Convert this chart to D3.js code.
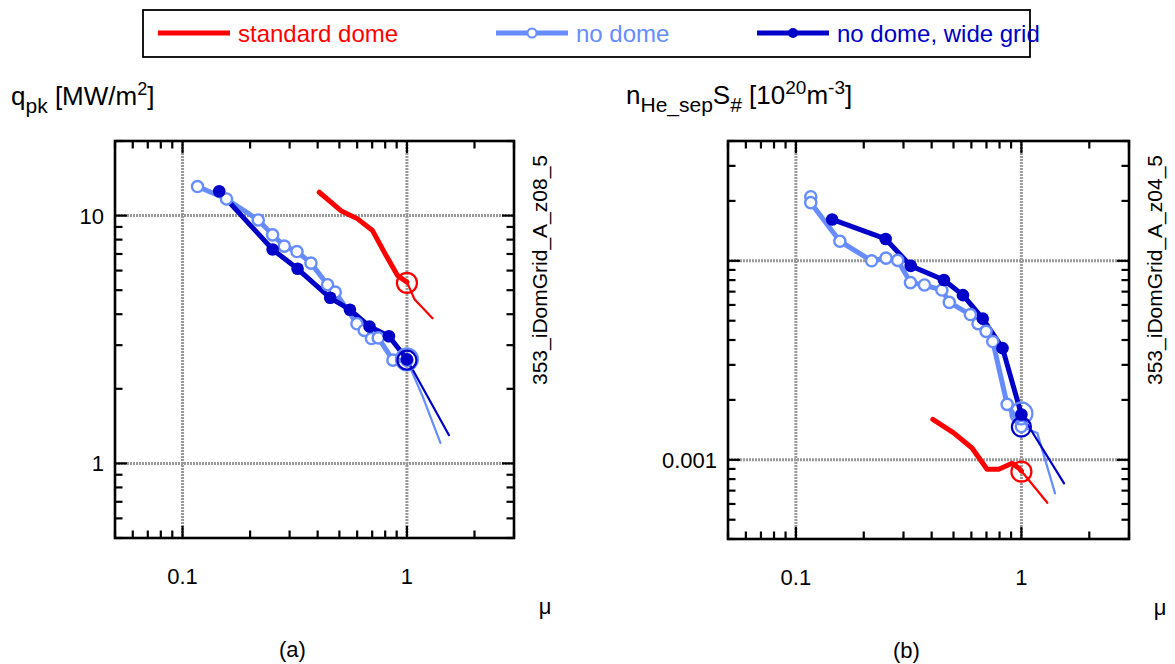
<!DOCTYPE html>
<html>
<head>
<meta charset="utf-8">
<script src="https://cdn.jsdelivr.net/npm/d3@7"></script>
<style>
  body { margin: 0; background: #fff; }
  svg { display: block; }
  text { font-family: "Liberation Sans", Arial, Helvetica, sans-serif; fill: #000; }
</style>
</head>
<body>
<svg id="chart" width="1175" height="664"></svg>
<script>
// ---------- data ----------
const seriesNames = ["standard dome", "no dome", "no dome, wide grid"];
const muDomain = [0.05, 3];
const muTickLabels = [0.1, 1];

// panel (a): peak heat flux q_pk [MW/m2]
const stdMuA  = [0.4066, 0.508, 0.6026, 0.7025, 0.792, 0.908, 1.0];
const stdQA   = [12.42, 10.47, 9.70, 8.70, 7.12, 5.73, 5.39];
const stdTailMuA = [1.0, 1.08, 1.30];
const stdTailQA  = [5.39, 4.60, 3.85];
const noDomeMuA = [0.1166, 0.157, 0.2175, 0.252, 0.284, 0.3235, 0.3735, 0.4428, 0.479, 0.5986, 0.645, 0.695, 0.745, 0.866, 1.0];
const noDomeQA  = [13.1, 11.67, 9.6, 8.36, 7.53, 7.16, 6.43, 5.26, 4.91, 3.66, 3.44, 3.19, 3.21, 2.61, 2.61];
const noDomeTailMuA = [1.0, 1.17, 1.41];
const noDomeTailQA  = [2.61, 1.88, 1.21];
const wideMuA = [0.1457, 0.252, 0.3255, 0.455, 0.557, 0.681, 0.8314, 1.0];
const wideQA  = [12.54, 7.30, 6.10, 4.66, 4.17, 3.57, 3.26, 2.63];
const wideTailMuA = [1.0, 1.54];
const wideTailQA  = [2.63, 1.30];
const ringMuA = [1.0, 1.0, 1.0];          // standard, no dome, wide grid
const ringQA  = [5.35, 2.63, 2.61];
const qTickLabels = [1, 10];
const qDomain = [0.5, 20];

// panel (b): n_He_sep S_# [1e20 m^-3]
const stdMuB  = [0.4048, 0.5006, 0.6039, 0.704, 0.794, 0.91, 0.975, 1.0];
const stdNB   = [0.001595, 0.001366, 0.001146, 0.000897, 0.000897, 0.000962, 0.000908, 0.000878];
const stdTailMuB = [1.0, 1.303];
const stdTailNB  = [0.000878, 0.000608];
const noDomeMuB = [0.1164, 0.1164, 0.1567, 0.2167, 0.251, 0.2828, 0.3221, 0.3717, 0.4441, 0.4789, 0.594, 0.6423, 0.697, 0.7466, 0.8645, 1.0];
const noDomeNB  = [0.0210, 0.0196, 0.01254, 0.0100, 0.01032, 0.01005, 0.00777, 0.00756, 0.00713, 0.00618, 0.00537, 0.00483, 0.00442, 0.00393, 0.0019, 0.00147];
const noDomeTailMuB = [1.0, 1.176, 1.41];
const noDomeTailNB  = [0.00147, 0.001365, 0.000678];
const wideMuB = [0.1448, 0.25, 0.3231, 0.4531, 0.5507, 0.674, 0.8245, 1.0];
const wideNB  = [0.01614, 0.01288, 0.00943, 0.00801, 0.00672, 0.00512, 0.00364, 0.00169];
const wideTailMuB = [1.0, 1.546];
const wideTailNB  = [0.00169, 0.000762];
const ringMuB = [1.0, 1.0, 1.0];
const ringNB  = [0.000872, 0.00171, 0.00146];
const nTickLabels = [0.001];
const nDomain = [0.0004, 0.04];

// ---------- styles ----------
const RED = "#ff0000", LIGHT = "#668cff", DARK = "#0000c8";
const colors = [RED, LIGHT, DARK];

const svg = d3.select("#chart");
const zip = (a, b) => a.map((v, i) => [v, b[i]]);
const isDecade = v => Math.abs(Math.log10(v) - Math.round(Math.log10(v))) < 1e-6;

function drawPanel(p) {
  const x = d3.scaleLog().domain(muDomain).range([p.left, p.right]);
  const y = d3.scaleLog().domain(p.yDomain).range([p.bottom, p.top]);
  const g = svg.append("g");

  // decade grid lines
  const gridStyle = s => s.attr("stroke", "#999").attr("stroke-width", 3).attr("stroke-dasharray", "2,1");
  g.selectAll(null).data(x.ticks().filter(isDecade)).join("line")
    .attr("x1", d => x(d)).attr("x2", d => x(d)).attr("y1", p.top).attr("y2", p.bottom).call(gridStyle);
  g.selectAll(null).data(y.ticks().filter(isDecade)).join("line")
    .attr("y1", d => y(d)).attr("y2", d => y(d)).attr("x1", p.left).attr("x2", p.right).call(gridStyle);

  // inward ticks on all four sides
  const tk = g.append("g").attr("stroke", "#000").attr("stroke-width", 2.2);
  const len = d => isDecade(d) ? 12 : 7.5;
  x.ticks().forEach(d => {
    tk.append("line").attr("x1", x(d)).attr("x2", x(d)).attr("y1", p.bottom).attr("y2", p.bottom - len(d));
    tk.append("line").attr("x1", x(d)).attr("x2", x(d)).attr("y1", p.top).attr("y2", p.top + len(d));
  });
  y.ticks().forEach(d => {
    tk.append("line").attr("y1", y(d)).attr("y2", y(d)).attr("x1", p.left).attr("x2", p.left + len(d));
    tk.append("line").attr("y1", y(d)).attr("y2", y(d)).attr("x1", p.right).attr("x2", p.right - len(d));
  });

  // frame
  g.append("rect").attr("x", p.left).attr("y", p.top)
    .attr("width", p.right - p.left).attr("height", p.bottom - p.top)
    .attr("fill", "none").attr("stroke", "#000").attr("stroke-width", 2.6);

  // tick labels
  g.selectAll(null).data(muTickLabels).join("text")
    .attr("x", d => x(d)).attr("y", p.bottom + 46).attr("text-anchor", "middle")
    .attr("font-size", 22).text(d => d);
  g.selectAll(null).data(p.yLabels).join("text")
    .attr("x", p.left - 11).attr("y", d => y(d) + 8).attr("text-anchor", "end")
    .attr("font-size", 22).text(d => d);

  // data lines
  const line = d3.line().x(d => x(d[0])).y(d => y(d[1]));
  const path = (data, color, w) => g.append("path").datum(data).attr("d", line)
    .attr("fill", "none").attr("stroke", color).attr("stroke-width", w)
    .attr("stroke-linejoin", "round").attr("stroke-linecap", "round");

  path(p.std, RED, 5);
  path(p.stdTail, RED, 2.2);
  path(p.noDome, LIGHT, 5);
  path(p.noDomeTail, LIGHT, 2.2);
  path(p.wide, DARK, 5);
  path(p.wideTail, DARK, 2.2);

  // markers
  g.selectAll(null).data(p.noDome).join("circle")
    .attr("cx", d => x(d[0])).attr("cy", d => y(d[1])).attr("r", 5.6)
    .attr("fill", "#fff").attr("stroke", LIGHT).attr("stroke-width", 2.4);
  g.selectAll(null).data(p.wide).join("circle")
    .attr("cx", d => x(d[0])).attr("cy", d => y(d[1])).attr("r", 6.3)
    .attr("fill", DARK);

  // rings at mu = 1
  const ringR = [10, 11, 9.5];
  g.selectAll(null).data(p.rings).join("circle")
    .attr("cx", d => x(d[0])).attr("cy", d => y(d[1])).attr("r", (d, i) => ringR[i])
    .attr("fill", "none").attr("stroke", (d, i) => colors[i]).attr("stroke-width", 2.2);

  // run identifier, vertical
  g.append("text")
    .attr("transform", `translate(${p.right + 33},${p.top + 129}) rotate(-90)`)
    .attr("text-anchor", "middle").attr("font-size", 21).text(p.runId);

  // mu axis symbol and panel tag
  g.append("text").attr("x", p.right + 31).attr("y", p.bottom + 76)
    .attr("font-size", 22).attr("text-anchor", "middle").text("\u03bc");
  g.append("text").attr("x", (p.left + p.right) / 2 - 22).attr("y", p.bottom + 119)
    .attr("font-size", 22).attr("text-anchor", "middle").text(p.tag);

  return g;
}

drawPanel({
  left: 115, right: 514, top: 141, bottom: 538,
  yDomain: qDomain, yLabels: qTickLabels,
  std: zip(stdMuA, stdQA), stdTail: zip(stdTailMuA, stdTailQA),
  noDome: zip(noDomeMuA, noDomeQA), noDomeTail: zip(noDomeTailMuA, noDomeTailQA),
  wide: zip(wideMuA, wideQA), wideTail: zip(wideTailMuA, wideTailQA),
  rings: zip(ringMuA, ringQA),
  runId: "353_iDomGrid_A_z08_5", tag: "(a)"
});

drawPanel({
  left: 728, right: 1129, top: 141, bottom: 539,
  yDomain: nDomain, yLabels: nTickLabels,
  std: zip(stdMuB, stdNB), stdTail: zip(stdTailMuB, stdTailNB),
  noDome: zip(noDomeMuB, noDomeNB), noDomeTail: zip(noDomeTailMuB, noDomeTailNB),
  wide: zip(wideMuB, wideNB), wideTail: zip(wideTailMuB, wideTailNB),
  rings: zip(ringMuB, ringNB),
  runId: "353_iDomGrid_A_z04_5", tag: "(b)"
});

// y-axis titles with sub/superscripts
const tA = svg.append("text").attr("x", 11).attr("y", 105).attr("font-size", 26);
tA.append("tspan").text("q");
tA.append("tspan").attr("font-size", 21).attr("dy", 8).text("pk");
tA.append("tspan").attr("dy", -8).text(" [MW/m");
tA.append("tspan").attr("font-size", 18).attr("dy", -10).text("2");
tA.append("tspan").attr("dy", 10).text("]");

const tB = svg.append("text").attr("x", 626).attr("y", 104).attr("font-size", 26);
tB.append("tspan").text("n");
tB.append("tspan").attr("font-size", 21).attr("dy", 8).text("He_sep");
tB.append("tspan").attr("dy", -8).text("S");
tB.append("tspan").attr("font-size", 21).attr("dy", 8).text("#");
tB.append("tspan").attr("dy", -8).text(" [10");
tB.append("tspan").attr("font-size", 19).attr("dy", -10).text("20");
tB.append("tspan").attr("dy", 10).text("m");
tB.append("tspan").attr("font-size", 19).attr("dy", -10).text("-3");
tB.append("tspan").attr("dy", 10).text("]");

// legend
const legend = svg.append("g");
legend.append("rect").attr("x", 143).attr("y", 10).attr("width", 887).attr("height", 47)
  .attr("fill", "#fff").attr("stroke", "#000").attr("stroke-width", 1.8);
const legX = d3.scaleOrdinal().domain(seriesNames).range([158, 496, 757]);
seriesNames.forEach((name, i) => {
  const x0 = legX(name);
  legend.append("line").attr("x1", x0).attr("x2", x0 + 72).attr("y1", 33).attr("y2", 33)
    .attr("stroke", colors[i]).attr("stroke-width", 5);
  if (i === 1) {
    legend.append("circle").attr("cx", x0 + 36).attr("cy", 33).attr("r", 4.5)
      .attr("fill", "#fff").attr("stroke", LIGHT).attr("stroke-width", 2);
  } else if (i === 2) {
    legend.append("circle").attr("cx", x0 + 36).attr("cy", 33).attr("r", 5).attr("fill", DARK);
  }
  legend.append("text").attr("x", x0 + 80).attr("y", 42).attr("font-size", 24)
    .style("fill", colors[i]).text(name);
});
</script>
</body>
</html>
